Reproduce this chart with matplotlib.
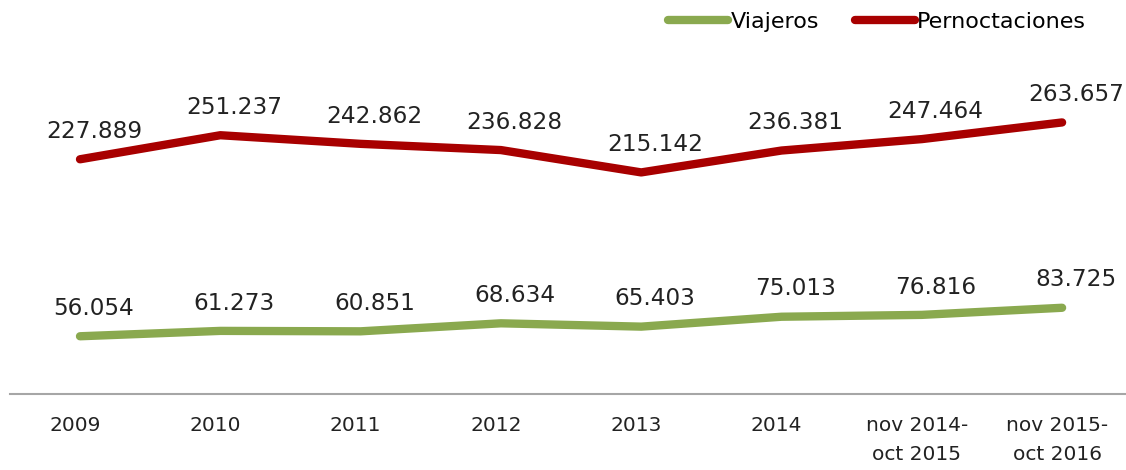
import matplotlib.pyplot as plt
import matplotlib.transforms as mtransforms

# === DATA ===
categories = ["2009", "2010", "2011", "2012", "2013", "2014",
              "nov 2014-\noct 2015", "nov 2015-\noct 2016"]
viajeros = [56.054, 61.273, 60.851, 68.634, 65.403, 75.013, 76.816, 83.725]
pernoctaciones = [227.889, 251.237, 242.862, 236.828, 215.142, 236.381, 247.464, 263.657]

green = "#8AA94F"
red = "#A80000"

fig = plt.figure(figsize=(11.26, 4.70), dpi=100)
ax = fig.add_axes([9.85 / 1126, 76 / 470, 1122.4 / 1126, 309 / 470])

x = range(len(categories))
ax.plot(x, viajeros, color=green, lw=6, solid_capstyle="round", solid_joinstyle="round", label="Viajeros")
ax.plot(x, pernoctaciones, color=red, lw=6, solid_capstyle="round", solid_joinstyle="round", label="Pernoctaciones")

# data labels
for series in (viajeros, pernoctaciones):
    for i, v in enumerate(series):
        ax.annotate(f"{v:.3f}", (i, v), xytext=(10, 20), textcoords="offset points",
                    ha="center", va="center", fontsize=16.7, color="#222222")

ax.set_xlim(-0.5, len(categories) - 0.5)
ax.set_ylim(0, 300)
ax.set_xticks(list(x))
ax.set_xticklabels(categories, fontsize=14.5, color="#222222", linespacing=1.65)
ax.tick_params(axis="x", length=0, pad=16)
shift = mtransforms.ScaledTranslation(-5 / 100, 0, fig.dpi_scale_trans)
for lbl in ax.get_xticklabels():
    lbl.set_transform(lbl.get_transform() + shift)
ax.set_yticks([])
for side in ("top", "right", "left"):
    ax.spines[side].set_visible(False)
ax.spines["bottom"].set_color("#A6A6A6")
ax.spines["bottom"].set_linewidth(1.5)

leg = fig.legend(loc="center", bbox_to_anchor=(877 / 1126, 1 - 22 / 470), ncol=2, frameon=False,
                 fontsize=16, handlelength=2.7, handletextpad=0.1, columnspacing=1.6)
for line in leg.get_lines():
    line.set_solid_capstyle("round")

fig.savefig("out.png", dpi=100)
